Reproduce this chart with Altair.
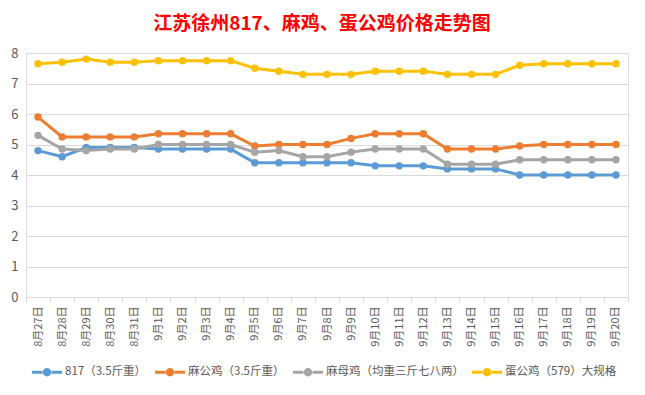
import altair as alt
import pandas as pd

dates = ["8月27日", "8月28日", "8月29日", "8月30日", "8月31日",
         "9月1日", "9月2日", "9月3日", "9月4日", "9月5日", "9月6日", "9月7日",
         "9月8日", "9月9日", "9月10日", "9月11日", "9月12日", "9月13日", "9月14日",
         "9月15日", "9月16日", "9月17日", "9月18日", "9月19日", "9月20日"]

series_names = ["817（3.5斤重）", "麻公鸡（3.5斤重）", "麻母鸡（均重三斤七八两）", "蛋公鸡（579）大规格"]

s817 = [4.8, 4.6, 4.9, 4.9, 4.9, 4.85, 4.85, 4.85, 4.85, 4.4, 4.4, 4.4, 4.4,
        4.4, 4.3, 4.3, 4.3, 4.2, 4.2, 4.2, 4.0, 4.0, 4.0, 4.0, 4.0]
ma_gong = [5.9, 5.25, 5.25, 5.25, 5.25, 5.35, 5.35, 5.35, 5.35, 4.95, 5.0, 5.0, 5.0,
           5.2, 5.35, 5.35, 5.35, 4.85, 4.85, 4.85, 4.95, 5.0, 5.0, 5.0, 5.0]
ma_mu = [5.3, 4.85, 4.8, 4.85, 4.85, 5.0, 5.0, 5.0, 5.0, 4.75, 4.8, 4.6, 4.6,
         4.75, 4.85, 4.85, 4.85, 4.35, 4.35, 4.35, 4.5, 4.5, 4.5, 4.5, 4.5]
dan_gong = [7.65, 7.7, 7.8, 7.7, 7.7, 7.75, 7.75, 7.75, 7.75, 7.5, 7.4, 7.3, 7.3,
            7.3, 7.4, 7.4, 7.4, 7.3, 7.3, 7.3, 7.6, 7.65, 7.65, 7.65, 7.65]

colors = ["#5B9BD5", "#ED7D31", "#A5A5A5", "#FFC000"]
y_ticks = [0, 1, 2, 3, 4, 5, 6, 7, 8]

rows = []
for k, (name, vals) in enumerate(zip(series_names, [s817, ma_gong, ma_mu, dan_gong])):
    for d, v in zip(dates, vals):
        rows.append({"date": d, "series": name, "value": v, "k": k})
df = pd.DataFrame(rows)

FONT = "Noto Sans CJK SC"
legend_symbol = ("M-1,-0.1L-0.3,-0.1L-0.3,0.1L-1,0.1Z "
                 "M0.3,-0.1L1,-0.1L1,0.1L0.3,0.1Z "
                 "M-0.28,0A0.28,0.28 0 1,0 0.28,0A0.28,0.28 0 1,0 -0.28,0Z")

base = alt.Chart(df).encode(
    x=alt.X("date:N", sort=dates,
            scale=alt.Scale(type="band", paddingInner=0, paddingOuter=0),
            axis=alt.Axis(title=None, labelAngle=270, labelFontSize=11, labelColor="#595959",
                          labelFont=FONT, tickBand="extent", ticks=True, tickSize=5,
                          tickColor="#D9D9D9", domainColor="#D9D9D9", labelPadding=4,
                          grid=False)),
    y=alt.Y("value:Q", scale=alt.Scale(domain=[0, 8], nice=False),
            axis=alt.Axis(title=None, values=y_ticks, ticks=False, domain=False,
                          labelFontSize=13, labelColor="#595959", labelFont=FONT,
                          labelPadding=8, gridColor="#D9D9D9", gridWidth=1)),
    color=alt.Color("series:N", sort=series_names,
                    scale=alt.Scale(domain=series_names, range=colors),
                    legend=alt.Legend(title=None, orient="none", direction="horizontal",
                                      legendX=6, legendY=304,
                                      symbolType=legend_symbol, symbolSize=900,
                                      symbolStrokeWidth=0, labelFontSize=11.5,
                                      labelColor="#595959", labelFont=FONT,
                                      labelOffset=3, columnPadding=8)),
    order=alt.Order("k:Q"),
)

lines = base.mark_line(strokeWidth=3)
points = base.mark_circle(size=55, opacity=1)

chart = alt.layer(lines, points).properties(
    width=602, height=244,
    title=alt.TitleParams("江苏徐州817、麻鸡、蛋公鸡价格走势图", color="#FF0000", fontSize=19,
                          fontWeight="bold", font=FONT, anchor="middle", offset=13, dx=-5),
    autosize=alt.AutoSizeParams(type="none"),
    padding={"left": 18, "top": 45, "right": 9, "bottom": 90},
).configure_view(stroke=None).configure(background="white")

chart.save("out.html", embed_options={"renderer": "svg", "actions": False})
